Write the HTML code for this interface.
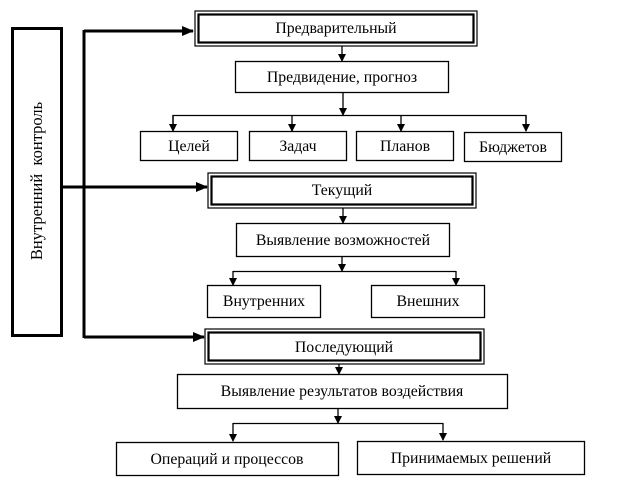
<!DOCTYPE html>
<html><head><meta charset="utf-8"><style>
html,body{margin:0;padding:0;background:#fff;}
svg{display:block}
text{font-family:"Liberation Serif",serif;font-size:15.8px;fill:#000}
</style></head><body>
<svg width="642" height="489" viewBox="0 0 642 489">
<defs>
<marker id="a" markerWidth="8" markerHeight="8" refX="7" refY="4" orient="auto" markerUnits="userSpaceOnUse"><path d="M0,0 L8,4 L0,8 z" fill="#000"/></marker>
<marker id="b" markerWidth="12" markerHeight="10" refX="11" refY="5" orient="auto" markerUnits="userSpaceOnUse"><path d="M0,0 L12,5 L0,10 z" fill="#000"/></marker>
</defs>
<g fill="none" stroke="#000">
<rect x="12.5" y="28.5" width="49" height="307" stroke-width="3"/>
<line x1="84" y1="30" x2="84" y2="338" stroke-width="3"/>
<polyline points="84,31 193,31" stroke-width="3" marker-end="url(#b)"/>
<polyline points="62,187 207,187" stroke-width="3" marker-end="url(#b)"/>
<polyline points="84,337 204,337" stroke-width="3" marker-end="url(#b)"/>
<rect x="195" y="11" width="282" height="35" stroke-width="1.2"/>
<rect x="198.5" y="14.5" width="275" height="28" stroke-width="2.2"/>
<rect x="208" y="173" width="268" height="35" stroke-width="1.2"/>
<rect x="211.5" y="176.5" width="261" height="28" stroke-width="2.2"/>
<rect x="205" y="329" width="279" height="35" stroke-width="1.2"/>
<rect x="208.5" y="332.5" width="272" height="28" stroke-width="2.2"/>
<g stroke-width="1.3">
<rect x="235.5" y="61.5" width="213" height="31"/>
<rect x="140.5" y="131.5" width="97" height="29"/>
<rect x="249.5" y="131.5" width="97" height="29"/>
<rect x="356.5" y="131.5" width="97" height="29"/>
<rect x="464.5" y="132.5" width="97" height="29"/>
<rect x="236.5" y="223.5" width="213" height="33"/>
<rect x="207.5" y="285.5" width="113" height="32"/>
<rect x="371.5" y="285.5" width="113" height="32"/>
<rect x="177.5" y="374.5" width="330" height="34"/>
<rect x="116.5" y="442.5" width="222" height="33"/>
<rect x="357.5" y="441.5" width="227" height="33"/>
</g>
<g stroke-width="1.3">
<line x1="342" y1="46" x2="342" y2="61" marker-end="url(#a)"/>
<line x1="343" y1="92" x2="343" y2="115" marker-end="url(#a)"/>
<polyline points="173,130 173,115.5 526,115.5 526,130" />
<line x1="173" y1="115" x2="173" y2="131" marker-end="url(#a)"/>
<line x1="292" y1="115" x2="292" y2="131" marker-end="url(#a)"/>
<line x1="401" y1="115" x2="401" y2="131" marker-end="url(#a)"/>
<line x1="526" y1="115" x2="526" y2="131" marker-end="url(#a)"/>
<line x1="343" y1="208" x2="343" y2="223" marker-end="url(#a)"/>
<line x1="342" y1="257" x2="342" y2="271" marker-end="url(#a)"/>
<polyline points="233,271.5 456,271.5"/>
<line x1="233" y1="271" x2="233" y2="285" marker-end="url(#a)"/>
<line x1="456" y1="271" x2="456" y2="285" marker-end="url(#a)"/>
<line x1="339" y1="364" x2="339" y2="374" marker-end="url(#a)"/>
<line x1="338" y1="408" x2="338" y2="423" marker-end="url(#a)"/>
<polyline points="233,423.5 443,423.5"/>
<line x1="233" y1="423" x2="233" y2="441" marker-end="url(#a)"/>
<line x1="443" y1="423" x2="443" y2="440" marker-end="url(#a)"/>
</g>
</g>
<g text-anchor="middle">
<text x="336" y="33">Предварительный</text>
<text x="342" y="82">Предвидение, прогноз</text>
<text x="189" y="151">Целей</text>
<text x="298" y="151">Задач</text>
<text x="405" y="151">Планов</text>
<text x="513" y="152">Бюджетов</text>
<text x="342" y="195">Текущий</text>
<text x="343" y="245">Выявление возможностей</text>
<text x="264" y="306">Внутренних</text>
<text x="428" y="306">Внешних</text>
<text x="344" y="352">Последующий</text>
<text x="342" y="396">Выявление результатов воздействия</text>
<text x="227" y="464">Операций и процессов</text>
<text x="471" y="463">Принимаемых решений</text>
<text x="0" y="0" style="font-size:16.5px" transform="translate(42,181) rotate(-90)" xml:space="preserve">Внутренний  контроль</text>
</g>
</svg>
</body></html>
